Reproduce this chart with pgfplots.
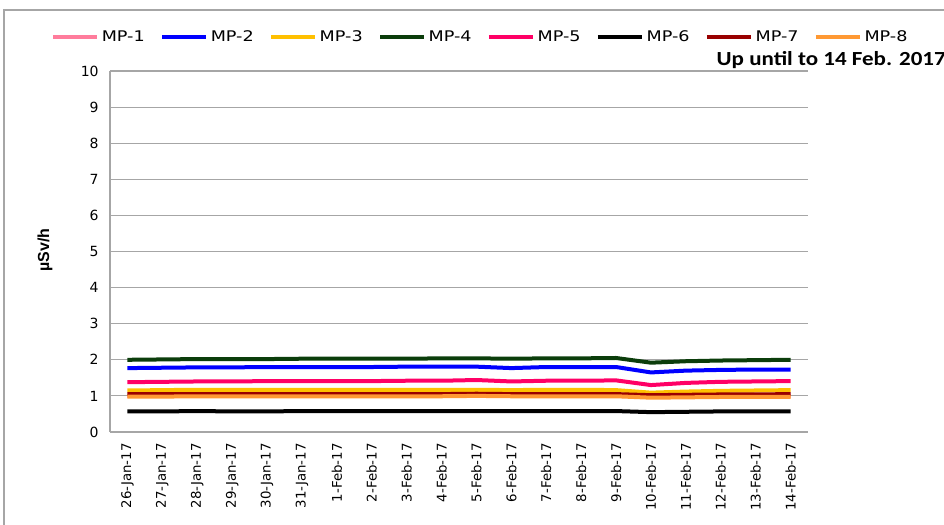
\documentclass[border=0pt]{standalone}
\usepackage{pgfplots}
\usepackage{pgfplotstable}
\pgfplotsset{compat=1.18}
\usepackage{fontspec}
\setmainfont{DejaVu Sans}
\newfontfamily\legfont{DejaVu Sans}[FakeStretch=1.2]
\newfontfamily\titlefont{Carlito}[FakeStretch=1.15]
\newfontfamily\labfont{Liberation Sans}
\definecolor{cMPa}{HTML}{FF7C9C}
\definecolor{cMPb}{HTML}{0000FF}
\definecolor{cMPc}{HTML}{FFC000}
\definecolor{cMPd}{HTML}{0B3D0B}
\definecolor{cMPe}{HTML}{FF0066}
\definecolor{cMPf}{HTML}{000000}
\definecolor{cMPg}{HTML}{990000}
\definecolor{cMPh}{HTML}{FF9933}
\definecolor{gridc}{HTML}{A6A6A6}
\pgfplotstableread{
x MPa MPb MPc MPd MPe MPf MPg MPh
0  1.00 1.77 1.15 2.00 1.38 0.57 1.05 0.98
1  1.00 1.78 1.16 2.01 1.39 0.57 1.05 0.98
2  1.00 1.79 1.17 2.02 1.40 0.58 1.05 0.99
3  1.00 1.79 1.17 2.02 1.40 0.57 1.05 0.99
4  1.00 1.80 1.17 2.02 1.41 0.57 1.05 0.99
5  1.00 1.80 1.17 2.03 1.41 0.58 1.05 0.99
6  1.00 1.80 1.17 2.03 1.41 0.58 1.05 0.99
7  1.00 1.80 1.17 2.03 1.41 0.58 1.05 0.99
8  1.00 1.81 1.17 2.03 1.42 0.58 1.05 0.99
9  1.00 1.81 1.17 2.04 1.42 0.58 1.05 0.99
10 1.00 1.81 1.17 2.04 1.44 0.58 1.06 1.00
11 1.00 1.77 1.16 2.03 1.40 0.58 1.05 0.99
12 1.00 1.80 1.17 2.04 1.42 0.58 1.05 0.99
13 1.00 1.80 1.17 2.04 1.42 0.58 1.05 0.99
14 1.00 1.80 1.16 2.05 1.43 0.58 1.05 0.99
15 0.98 1.65 1.09 1.92 1.30 0.55 1.02 0.95
16 0.99 1.70 1.12 1.96 1.36 0.56 1.03 0.96
17 1.00 1.72 1.14 1.98 1.39 0.57 1.04 0.97
18 1.00 1.73 1.15 1.99 1.40 0.57 1.04 0.97
19 1.00 1.73 1.16 2.00 1.41 0.57 1.05 0.97
}\datatable
\begin{document}
\begin{tikzpicture}
\useasboundingbox (0,0) rectangle (708pt,393pt);
\draw[gridc, line width=0.8pt] (3pt,-20pt) -- (3pt,385.5pt) -- (730pt,385.5pt);
\begin{axis}[
  at={(82.5pt,69pt)}, anchor=south west,
  scale only axis, width=523.5pt, height=270.75pt,
  xmin=-0.5, xmax=19.5, ymin=0, ymax=10,
  xtick={0,...,19},
  xticklabels={26-Jan-17,27-Jan-17,28-Jan-17,29-Jan-17,30-Jan-17,31-Jan-17,1-Feb-17,2-Feb-17,3-Feb-17,4-Feb-17,5-Feb-17,6-Feb-17,7-Feb-17,8-Feb-17,9-Feb-17,10-Feb-17,11-Feb-17,12-Feb-17,13-Feb-17,14-Feb-17},
  ytick={0,...,10},
  /pgf/number format/assume math mode=true,
  xticklabel style={rotate=90, anchor=east, font=\fontsize{10}{12}\selectfont},
  xticklabel shift=5pt,
  yticklabel style={font=\fontsize{10.5}{12}\selectfont, xshift=-5pt},
  major tick length=0pt,
  ymajorgrids, grid style={gridc, line width=0.8pt},
  axis line style={gridc, line width=0.8pt},
  axis x line*=bottom, axis y line*=left,
  legend columns=8,
  legend style={at={(0.531,1.094)}, anchor=center, draw=none, fill=none,
    font=\legfont\fontsize{11}{13}\selectfont, inner sep=0pt,
    /tikz/every even column/.append style={column sep=9.5pt}},
  legend image code/.code={\draw[#1, line width=3pt] (0pt,0pt) -- (33pt,0pt);},
  legend cell align=left,
  every axis plot/.append style={line width=3pt, line join=round},
]
\addplot[cMPa, no marks] table[x=x, y=MPa] {\datatable};
\addlegendentry{MP-1}
\addplot[cMPb, no marks] table[x=x, y=MPb] {\datatable};
\addlegendentry{MP-2}
\addplot[cMPc, no marks] table[x=x, y=MPc] {\datatable};
\addlegendentry{MP-3}
\addplot[cMPd, no marks] table[x=x, y=MPd] {\datatable};
\addlegendentry{MP-4}
\addplot[cMPe, no marks] table[x=x, y=MPe] {\datatable};
\addlegendentry{MP-5}
\addplot[cMPf, no marks] table[x=x, y=MPf] {\datatable};
\addlegendentry{MP-6}
\addplot[cMPg, no marks] table[x=x, y=MPg] {\datatable};
\addlegendentry{MP-7}
\addplot[cMPh, no marks] table[x=x, y=MPh] {\datatable};
\addlegendentry{MP-8}
\end{axis}
\node[rotate=90, font=\labfont\bfseries\fontsize{12}{14}\selectfont] at (33.75pt,205.5pt) {µSv/h};
\node[anchor=west, font=\titlefont\bfseries\fontsize{15}{17}\selectfont] at (534pt,348pt) {Up until to 14 Feb. 2017};
\end{tikzpicture}
\end{document}
